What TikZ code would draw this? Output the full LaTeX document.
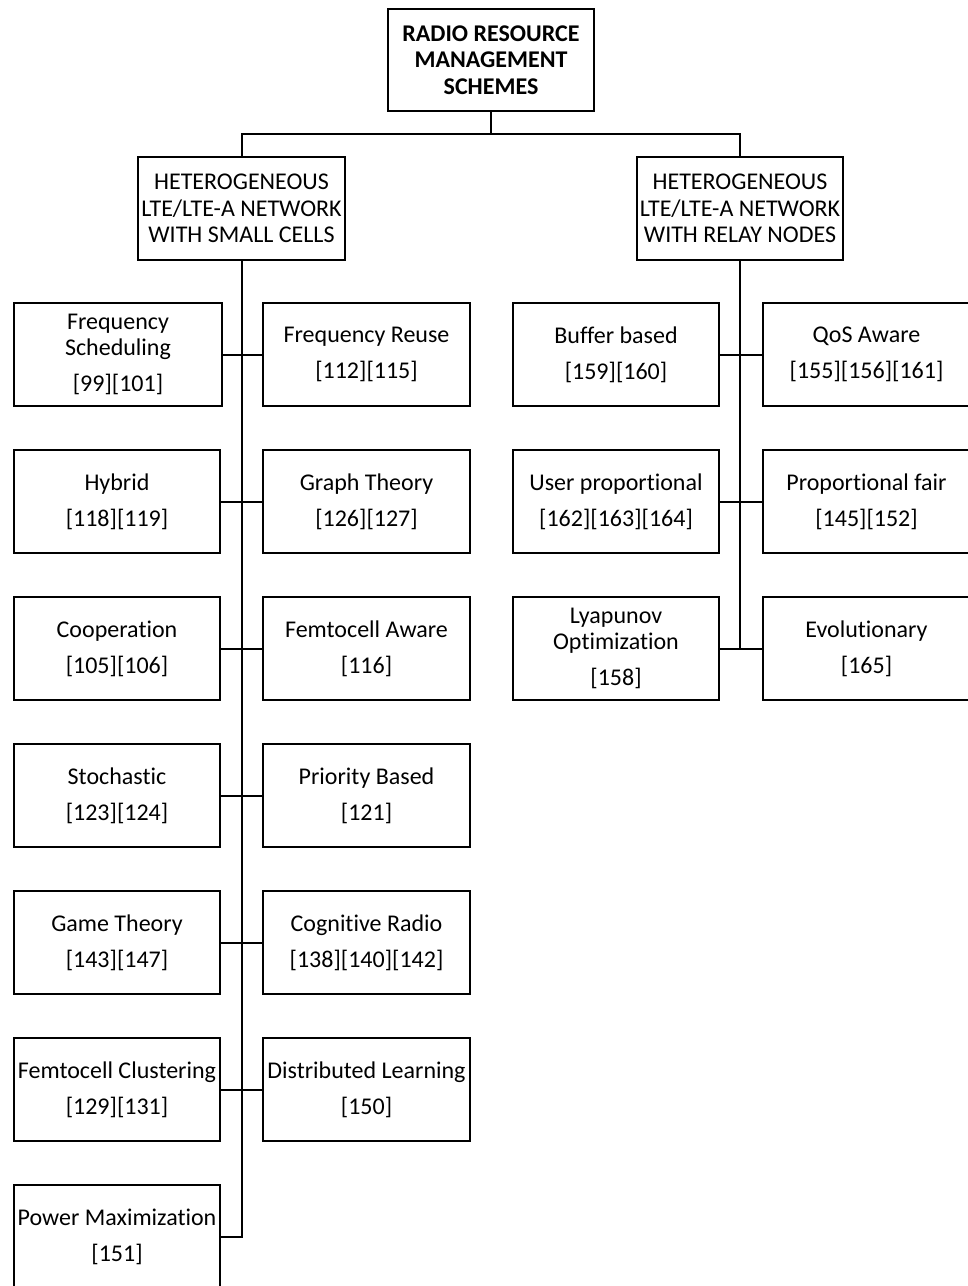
\documentclass[tikz,border=0pt]{standalone}
\usepackage{fontspec}
\setmainfont[Ligatures=NoCommon]{Carlito}
\begin{document}
\begin{tikzpicture}[x=1pt,y=-1pt,line width=2pt,
  box/.style={draw,rectangle,inner sep=0pt,align=center,minimum height=103pt,
    font=\fontsize{24}{26.5}\selectfont},
  lbox/.style={box,minimum width=206pt},
  rbox/.style={box,minimum width=207pt},
  wire/.style={line width=2pt}]
\useasboundingbox (0,0) rectangle (968,1286);
% top
\node[box,minimum width=206pt,minimum height=102pt,font=\fontsize{24}{26.5}\selectfont\bfseries] (top) at (491,60) {RADIO RESOURCE\\MANAGEMENT\\SCHEMES};
\node[box,minimum width=207pt] (sc) at (241.5,208.5) {HETEROGENEOUS\\LTE/LTE-A NETWORK\\WITH SMALL CELLS};
\node[box,minimum width=206pt] (rn) at (740,208.5) {HETEROGENEOUS\\LTE/LTE-A NETWORK\\WITH RELAY NODES};
\coordinate (jn) at (491,134);
\draw[wire] (top.south) -- (jn);
\draw[wire] (jn) -| (sc.north);
\draw[wire] (jn) -| (rn.north);
% left group
\node[box,minimum width=208pt] (fs) at (118,354.5) {Frequency\\Scheduling\\[9.5pt][99][101]};
\node[rbox] (fr) at (366.5,354.5) {Frequency Reuse\\[9.5pt][112][115]};
\node[lbox] (hy) at (117,501.5) {Hybrid\\[9.5pt][118][119]};
\node[rbox] (gt) at (366.5,501.5) {Graph Theory\\[9.5pt][126][127]};
\node[lbox] (co) at (117,648.5) {Cooperation\\[9.5pt][105][106]};
\node[rbox] (fa) at (366.5,648.5) {Femtocell Aware\\[9.5pt][116]};
\node[lbox] (st) at (117,795.5) {Stochastic\\[9.5pt][123][124]};
\node[rbox] (pb) at (366.5,795.5) {Priority Based\\[9.5pt][121]};
\node[lbox] (gm) at (117,942.5) {Game Theory\\[9.5pt][143][147]};
\node[rbox] (cr) at (366.5,942.5) {Cognitive Radio\\[9.5pt][138][140][142]};
\node[lbox] (fc) at (117,1089.5) {Femtocell Clustering\\[9.5pt][129][131]};
\node[rbox] (dl) at (366.5,1089.5) {Distributed Learning\\[9.5pt][150]};
\node[lbox] (pm) at (117,1236.5) {Power Maximization\\[9.5pt][151]};
\draw[wire] (sc.south) |- (pm.east);
\draw[wire] (fs.east) -- (fr.west);
\draw[wire] (hy.east) -- (gt.west);
\draw[wire] (co.east) -- (fa.west);
\draw[wire] (st.east) -- (pb.west);
\draw[wire] (gm.east) -- (cr.west);
\draw[wire] (fc.east) -- (dl.west);
% right group
\node[lbox] (bb) at (616,354.5) {Buffer based\\[9.5pt][159][160]};
\node[rbox] (qa) at (866.5,354.5) {QoS Aware\\[9.5pt][155][156][161]};
\node[lbox] (up) at (616,501.5) {User proportional\\[9.5pt][162][163][164]};
\node[rbox] (pf) at (866.5,501.5) {Proportional fair\\[9.5pt][145][152]};
\node[lbox] (ly) at (616,648.5) {Lyapunov\\Optimization\\[9.5pt][158]};
\node[rbox] (ev) at (866.5,648.5) {Evolutionary\\[9.5pt][165]};
\draw[wire] (rn.south) |- (ly.east);
\draw[wire] (ly.east) -- (ev.west);
\draw[wire] (bb.east) -- (qa.west);
\draw[wire] (up.east) -- (pf.west);
\end{tikzpicture}
\end{document}
